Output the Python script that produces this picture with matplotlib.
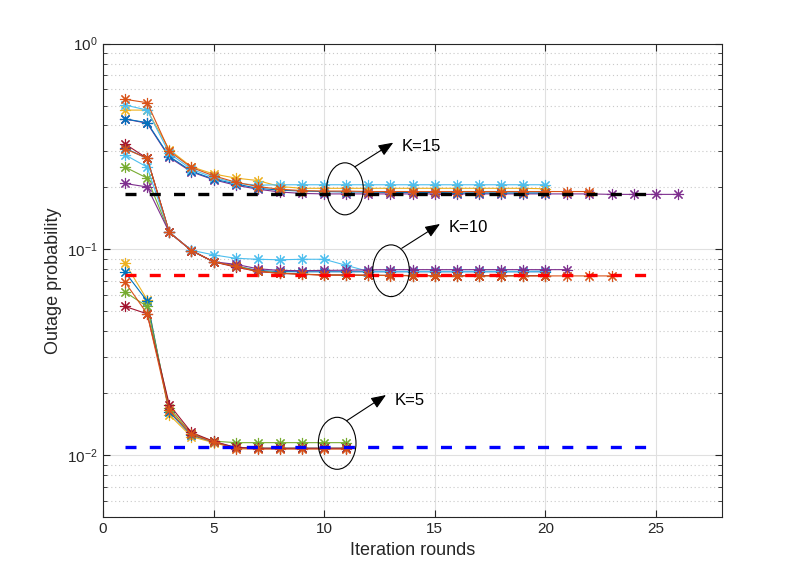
import numpy as np
import matplotlib.pyplot as plt
from matplotlib.patches import Ellipse

plt.rcParams['font.family'] = ['Liberation Sans', 'DejaVu Sans']

# MATLAB default colour order
c_blue = '#0072BD'
c_orange = '#D95319'
c_yellow = '#EDB120'
c_purple = '#7E2F8E'
c_green = '#77AC30'
c_cyan = '#4DBEEE'
c_red = '#A2142F'

# K = 15 curves (outage probability per iteration, starting at round 1)
k15_purple = [0.43, 0.41, 0.28, 0.238, 0.218, 0.205, 0.196, 0.190, 0.187, 0.186, 0.186, 0.186, 0.186,
              0.186, 0.186, 0.186, 0.186, 0.186, 0.186, 0.186, 0.186, 0.186, 0.185, 0.185, 0.185, 0.185]
k15_orange = [0.536, 0.516, 0.300, 0.250, 0.228, 0.212, 0.202, 0.196, 0.193, 0.192, 0.192, 0.191,
              0.191, 0.191, 0.191, 0.191, 0.191, 0.191, 0.191, 0.191, 0.191, 0.191]
k15_cyan = [0.503, 0.475, 0.293, 0.245, 0.224, 0.210, 0.205, 0.206, 0.206, 0.206, 0.206, 0.206,
            0.206, 0.206, 0.206, 0.206, 0.206, 0.206, 0.206, 0.206]
k15_yellow = [0.475, 0.475, 0.305, 0.252, 0.2325, 0.222, 0.216, 0.202, 0.198, 0.198, 0.198, 0.198,
              0.198, 0.198, 0.198, 0.198, 0.198, 0.198, 0.198, 0.197]
k15_blue = [0.430, 0.413, 0.283, 0.240, 0.2196, 0.208, 0.198, 0.194, 0.192, 0.191, 0.190, 0.190,
            0.189, 0.189, 0.189, 0.188, 0.188, 0.188, 0.188, 0.188]

# K = 10 curves
k10_blue = [0.31, 0.277, 0.121, 0.0987, 0.087, 0.0830, 0.0790, 0.0780, 0.0778, 0.0778, 0.0778,
            0.0778, 0.0778, 0.0778, 0.0778, 0.0778, 0.0778, 0.0778, 0.0778, 0.0778]
k10_green = [0.251, 0.222, 0.121, 0.0987, 0.087, 0.083, 0.0785, 0.0768, 0.0758, 0.0752, 0.0750,
             0.0748, 0.0747, 0.0746, 0.0746, 0.0745, 0.0745, 0.0745, 0.0745, 0.0745]
k10_red = [0.325, 0.277, 0.121, 0.0987, 0.087, 0.082, 0.0781, 0.0765, 0.0757, 0.0750, 0.0750,
           0.0748, 0.0747, 0.0746, 0.0745, 0.0745, 0.0745, 0.0745, 0.0745, 0.0745]
k10_orange = [0.308, 0.277, 0.121, 0.0987, 0.087, 0.0827, 0.0781, 0.0765, 0.0757, 0.0750, 0.0750,
              0.0748, 0.0746, 0.0745, 0.0745, 0.0744, 0.0744, 0.0743, 0.0743, 0.0743, 0.0743,
              0.0743, 0.0743]
k10_purple = [0.209, 0.201, 0.121, 0.0987, 0.087, 0.0846, 0.0805, 0.0790, 0.0788, 0.0790, 0.0792,
              0.0795, 0.0797, 0.0797, 0.0797, 0.0797, 0.0797, 0.0797, 0.0797, 0.0797, 0.0797]
k10_cyan = [0.288, 0.251, 0.121, 0.099, 0.094, 0.0905, 0.0895, 0.089, 0.0895, 0.0895, 0.0836,
            0.0782, 0.0782, 0.0782, 0.0782, 0.0782, 0.0782, 0.0782, 0.0782, 0.0785]

# K = 5 curves
k5_yellow = [0.0857, 0.0569, 0.0157, 0.0123, 0.0115, 0.0108, 0.0108, 0.0108, 0.0108, 0.0108, 0.0108]
k5_blue = [0.0775, 0.0560, 0.0162, 0.0125, 0.0116, 0.0109, 0.0108, 0.0108, 0.0108, 0.0108, 0.0108]
k5_green = [0.0620, 0.0528, 0.0170, 0.0127, 0.0117, 0.0115, 0.0115, 0.0115, 0.0115, 0.0115, 0.0115]
k5_red = [0.0528, 0.0486, 0.0176, 0.0129, 0.01167, 0.0109, 0.0108, 0.0108, 0.0108, 0.0108, 0.0108]
k5_orange = [0.0693, 0.0486, 0.0165, 0.0126, 0.0116, 0.01075, 0.0107, 0.0107, 0.0107, 0.0107, 0.0107]

# lower bounds (dashed)
bound_x = [1, 25]
bound_k15 = 0.185
bound_k10 = 0.075
bound_k5 = 0.0109

curves = [
    (k15_purple, c_purple), (k15_blue, c_blue), (k15_yellow, c_yellow),
    (k15_cyan, c_cyan), (k15_orange, c_orange),
    (k10_blue, c_blue), (k10_green, c_green), (k10_red, c_red),
    (k10_cyan, c_cyan), (k10_purple, c_purple), (k10_orange, c_orange),
    (k5_yellow, c_yellow), (k5_blue, c_blue), (k5_green, c_green),
    (k5_red, c_red), (k5_orange, c_orange),
]

fig = plt.figure(figsize=(7.98, 5.81), dpi=100)
ax = fig.add_axes([0.129, 0.110, 0.776, 0.815])

asterisk = (8, 2, 0)
for y, c in curves:
    x = np.arange(1, len(y) + 1)
    ax.plot(x, y, color=c, lw=0.8, marker=asterisk, markersize=8, markeredgewidth=0.8)

# bounds drawn last, on top of the curves
for val, c in [(bound_k15, 'k'), (bound_k10, 'r'), (bound_k5, 'b')]:
    ax.plot(bound_x, [val, val], color=c, lw=2.4, linestyle=(0, (3.3, 3.98)))

ax.set_yscale('log')
ax.set_xlim(0, 28)
ax.set_ylim(0.005, 1)
ax.set_xticks([0, 5, 10, 15, 20, 25])
ax.set_xlabel('Iteration rounds', fontsize=13, color='#262626')
ax.set_ylabel('Outage probability', fontsize=13, color='#262626')

ax.grid(True, which='major', color='#e0e0e0', lw=0.8, ls='-')
ax.grid(True, which='minor', axis='y', color='#c8c8c8', lw=0.8, ls=(0, (1, 2.5)))
ax.set_axisbelow(True)
ax.tick_params(which='both', direction='in', top=True, right=True, colors='#262626',
               labelsize=11)
ax.tick_params(which='major', length=5)
ax.tick_params(which='minor', length=3)
for s in ax.spines.values():
    s.set_color('#262626')
    s.set_linewidth(0.8)

# annotations in figure coordinates
ellipses = [((0.4323, 0.675), 0.0459, 0.0895),
            ((0.4900, 0.534), 0.0459, 0.0890),
            ((0.4225, 0.237), 0.0472, 0.0895)]
for (cx, cy), w, h in ellipses:
    fig.add_artist(Ellipse((cx, cy), w, h, transform=fig.transFigure, fill=False,
                           ec='k', lw=0.8))

arrows = [((0.4449, 0.7131), (0.4928, 0.7545), (0.5034, 0.7475), 'K=15'),
          ((0.5034, 0.5726), (0.5514, 0.6145), (0.5618, 0.6088), 'K=10'),
          ((0.4345, 0.2759), (0.4837, 0.3201), (0.4941, 0.3115), 'K=5')]
for start, tip, txt_pos, label in arrows:
    ax.annotate('', xy=tip, xytext=start, xycoords='figure fraction',
                textcoords='figure fraction',
                arrowprops=dict(arrowstyle='-|>,head_length=0.45,head_width=0.18',
                                mutation_scale=20, lw=0.8, color='k',
                                shrinkA=0, shrinkB=0))
    fig.text(txt_pos[0], txt_pos[1], label, fontsize=12, va='center', ha='left')

fig.savefig('out.png', dpi=100)
